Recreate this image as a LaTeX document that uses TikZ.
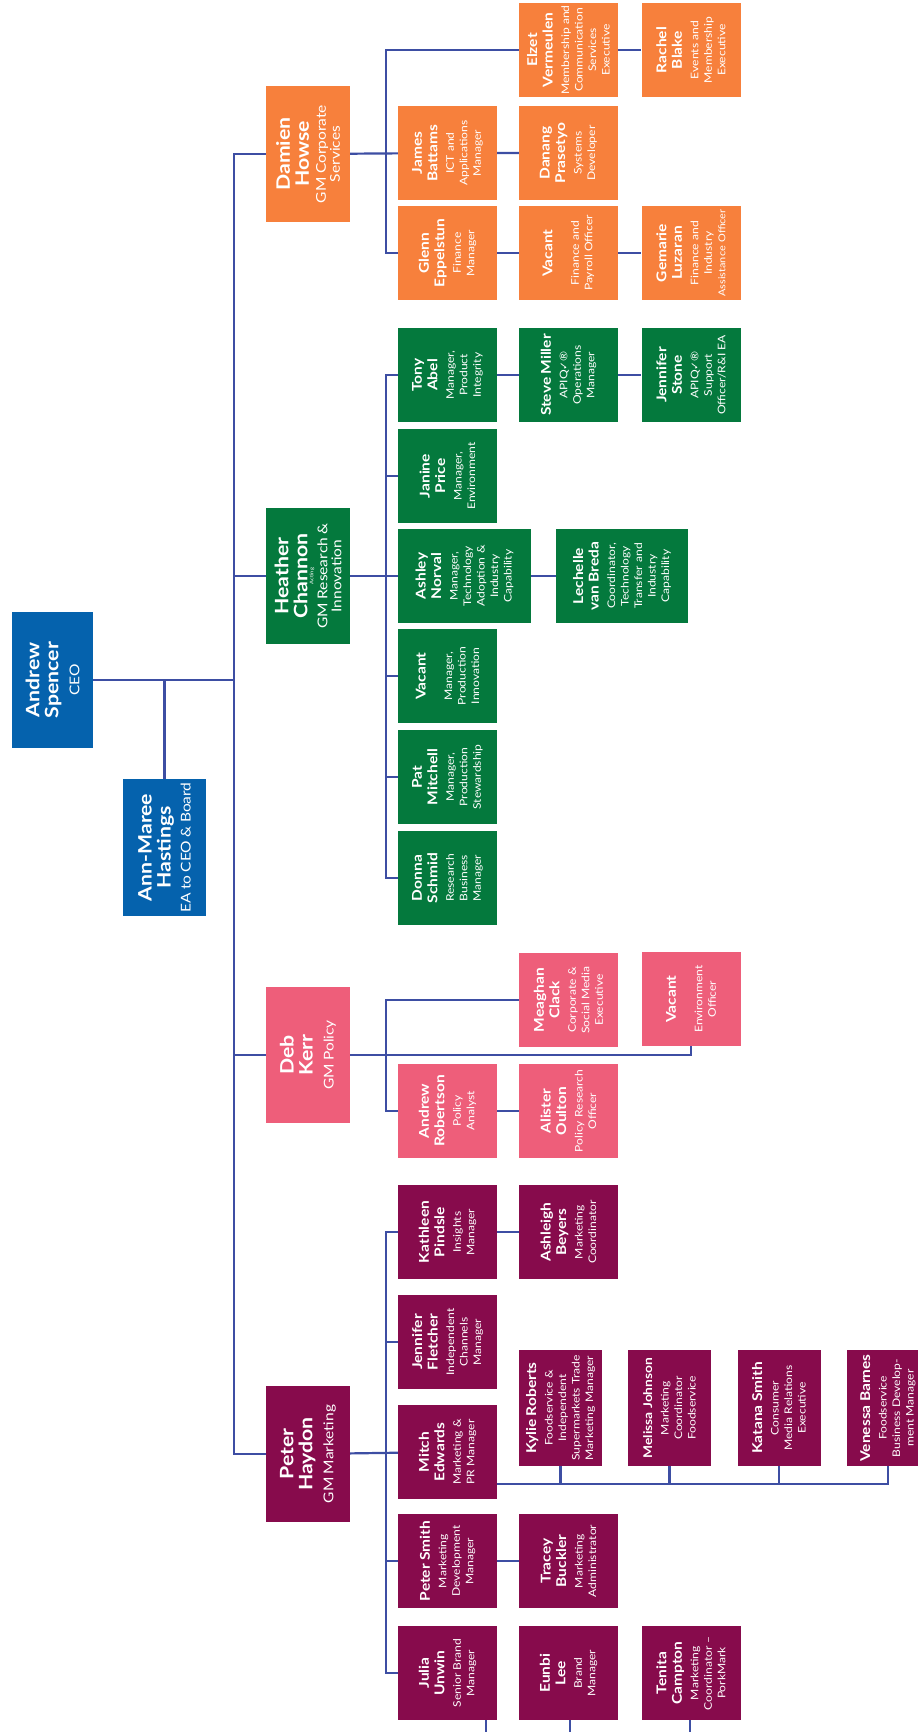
\documentclass[tikz,border=0pt]{standalone}
\usepackage{fontspec}
\setmainfont{Lato}[FakeStretch=1.15]
\setsansfont{Lato}[FakeStretch=1.15]
\newfontfamily\symfont{DejaVu Sans}
\usepackage{tikz}
\definecolor{ceoblue}{HTML}{0562AD}
\definecolor{corp}{HTML}{F7803C}
\definecolor{rnd}{HTML}{04793D}
\definecolor{policy}{HTML}{EE5E7A}
\definecolor{mktg}{HTML}{870B4C}
\definecolor{linec}{HTML}{3D4EA3}
\newcommand{\nm}[1]{{\fontsize{13.5}{15.5}\selectfont\bfseries #1\par}\vspace{3pt}}
\newcommand{\rl}[1]{{\fontsize{10.5}{13.5}\selectfont #1\par}}
\newcommand{\gnm}[1]{{\fontsize{18.5}{19}\selectfont\bfseries #1\par}\vspace{3pt}}
\newcommand{\grl}[1]{{\fontsize{13.5}{14}\selectfont #1\par}}
\newcommand{\apiq}{APIQ{\symfont ✓}®}
\tikzstyle{box} = [rotate=90, inner sep=2pt, text=white, align=center]
\tikzstyle{staffbox} = [box, minimum width=94, minimum height=99, text width=90]
\tikzstyle{widebox} = [box, minimum width=94, minimum height=133, text width=90]
\tikzstyle{tallbox} = [box, minimum width=116, minimum height=83, text width=112]
\tikzstyle{headbox} = [box, minimum width=136, minimum height=84, text width=132]
\tikzstyle{link} = [draw=linec, line width=2.2pt]

\begin{document}
\begin{tikzpicture}[x=1pt, y=-1pt]
        \useasboundingbox (0,0) rectangle (918,1732);
        \clip (0,0) rectangle (918,1732);
        \coordinate (trunk) at (234,0);
        \coordinate (ct) at (386,0);
        \coordinate (busy) at (0,1484);

        % CEO and EA
        \node[headbox, fill=ceoblue, minimum height=81] at (52.5,680) (AS) {\gnm{Andrew\\Spencer}\vspace{4pt}\grl{CEO}};
        \node[headbox, fill=ceoblue, minimum height=83, minimum width=137] at (164.5,847.5) (AH) {\gnm{Ann-Maree\\Hastings}\vspace{3pt}\grl{EA to CEO \& Board}};

        % Corporate Services
        \node[headbox, fill=corp] at (308,154) (DH) {\gnm{Damien\\Howse}\grl{GM Corporate\\Services}};
        \node[staffbox, fill=corp] at (568.5,50) (EV) {\nm{Elzet\\Vermeulen}\rl{Membership and\\Communication\\Services\\Executive}};
        \node[staffbox, fill=corp] at (691,50) (RB) {\nm{Rachel\\Blake}\rl{Events and\\Membership\\Executive}};
        \node[staffbox, fill=corp] at (447.5,153) (JB) {\nm{James\\Battams}\rl{ICT and\\Applications\\Manager}};
        \node[staffbox, fill=corp] at (568.5,153) (DP) {\nm{Danang\\Prasetyo}\rl{Systems\\Developer}};
        \node[staffbox, fill=corp] at (447.5,253) (GE) {\nm{Glenn\\Eppelstun}\rl{Finance\\Manager}};
        \node[staffbox, fill=corp] at (568.5,253) (V1) {\nm{Vacant}\vspace{10pt}\rl{Finance and\\Payroll Officer}};
        \node[staffbox, fill=corp] at (691,253) (GL) {\nm{Gemarie\\Luzaran}\rl{Finance and\\Industry\\{\fontsize{9.5}{13.5}\selectfont Assistance Officer}}};

        % Research & Innovation
        \node[headbox, fill=rnd] at (308,576) (HC) {{\fontsize{18.5}{19}\selectfont\bfseries Heather\\Channon\par}{\fontsize{5}{6}\selectfont Acting\par}\grl{GM Research \&\\Innovation}};
        \node[staffbox, fill=rnd] at (447.5,375) (TA) {\nm{Tony\\Abel}\rl{Manager,\\Product\\Integrity}};
        \node[staffbox, fill=rnd] at (568.5,375) (SM) {\nm{Steve Miller}\rl{\apiq\\Operations\\Manager}};
        \node[staffbox, fill=rnd] at (691,375) (JS) {\nm{Jennifer\\Stone}\rl{\apiq\\Support\\Officer/R\&I EA}};
        \node[staffbox, fill=rnd] at (447.5,476) (JP) {\nm{Janine\\Price}\rl{Manager,\\Environment}};
        \node[widebox, fill=rnd] at (464.5,576) (AN) {\nm{Ashley\\Norval}\rl{Manager,\\Technology\\Adoption \&\\Industry\\Capability}};
        \node[widebox, fill=rnd, minimum height=132] at (622,576) (LB) {\nm{Lechelle\\van Breda}\rl{Coordinator,\\Technology\\Transfer and\\Industry\\Capability}};
        \node[staffbox, fill=rnd] at (447.5,676) (V2) {\nm{Vacant}\vspace{10pt}\rl{Manager,\\Production\\Innovation}};
        \node[staffbox, fill=rnd] at (447.5,777) (PM) {\nm{Pat\\Mitchell}\rl{Manager,\\Production\\Stewardship}};
        \node[staffbox, fill=rnd] at (447.5,878) (DS) {\nm{Donna\\Schmid}\rl{Research\\Business\\Manager}};

        % Policy
        \node[headbox, fill=policy] at (308,1055) (DK) {\gnm{Deb\\Kerr}\vspace{4pt}\grl{GM Policy}};
        \node[staffbox, fill=policy] at (568.5,1000) (MC) {\nm{Meaghan\\Clack}\rl{Corporate \&\\Social Media\\Executive}};
        \node[staffbox, fill=policy] at (691,999) (V3) {\nm{Vacant}\vspace{10pt}\rl{Environment\\Officer}};
        \node[staffbox, fill=policy] at (447.5,1111) (AR) {\nm{Andrew\\Robertson}\rl{Policy\\Analyst}};
        \node[staffbox, fill=policy] at (568.5,1111) (AO) {\nm{Alister\\Oulton}\rl{Policy Research\\Officer}};

        % Marketing
        \node[headbox, fill=mktg] at (308,1454) (PH) {\gnm{Peter\\Haydon}\vspace{4pt}\grl{GM Marketing}};
        \node[staffbox, fill=mktg] at (447.5,1232) (KP) {\nm{Kathleen\\Pindsle}\rl{Insights\\Manager}};
        \node[staffbox, fill=mktg] at (568.5,1232) (AB) {\nm{Ashleigh\\Beyers}\rl{Marketing\\Coordinator}};
        \node[staffbox, fill=mktg] at (447.5,1342) (JF) {\nm{Jennifer\\Fletcher}\rl{Independent\\Channels\\Manager}};
        \node[staffbox, fill=mktg] at (447.5,1452) (ME) {\nm{Mitch\\Edwards}\rl{Marketing \&\\PR Manager}};
        \node[tallbox, fill=mktg] at (560.5,1408) (KR) {\nm{Kylie Roberts}\rl{Foodservice \&\\Independent\\Supermarkets Trade\\Marketing Manager}};
        \node[tallbox, fill=mktg] at (669.5,1408) (MJ) {{\fontsize{12}{15.5}\selectfont\bfseries Melissa Johnson\par}\vspace{3pt}\rl{Marketing\\Coordinator\\Foodservice}};
        \node[tallbox, fill=mktg] at (779,1408) (KS) {\nm{Katana Smith}\rl{Consumer\\Media Relations\\Executive}};
        \node[tallbox, fill=mktg] at (888,1408) (VB) {\nm{Venessa Barnes}\rl{Foodservice\\Business Develop-\\ment Manager}};
        \node[staffbox, fill=mktg] at (447.5,1561) (PS) {\nm{Peter Smith}\rl{Marketing\\Development\\Manager}};
        \node[staffbox, fill=mktg] at (568.5,1561) (TB) {\nm{Tracey\\Buckler}\rl{Marketing\\Administrator}};
        \node[staffbox, fill=mktg] at (447.5,1673) (JU) {\nm{Julia\\Unwin}\rl{Senior Brand\\Manager}};
        \node[staffbox, fill=mktg] at (568.5,1673) (EL) {\nm{Eunbi\\Lee}\rl{Brand\\Manager}};
        \node[staffbox, fill=mktg] at (691,1673) (TC) {\nm{Tenita\\Campton}\rl{Marketing\\Coordinator --\\PorkMark}};
        \coordinate (JUo) at (486,1745);
        \coordinate (ELo) at (570,1745);
        \coordinate (TCo) at (690,1745);

        % main trunk
        \draw[link] (DH) -| (trunk |- PH) -- (PH);
        \draw[link] (AS) -- (AS -| trunk);
        \draw[link] (AH) -- (AH |- AS);
        \draw[link] (HC) -- (HC -| trunk);
        \draw[link] (DK) -- (DK -| trunk);

        \draw[link] (DH) -- (JB) -- (DP);
        \draw[link] (EV) -| (ct |- GE) -- (GE) -- (V1) -- (GL);
        \draw[link] (EV) -- (RB);

        \draw[link] (HC) -- (AN) -- (LB);
        \draw[link] (TA) -| (ct |- DS) -- (DS);
        \draw[link] (TA) -- (SM) -- (JS);
        \draw[link] (JP) -- (JP -| ct);
        \draw[link] (V2) -- (V2 -| ct);
        \draw[link] (PM) -- (PM -| ct);

        \draw[link] (DK) -| (V3);
        \draw[link] (MC) -| (ct |- AR) -- (AR) -- (AO);

        \draw[link] (PH) -- (ME);
        \draw[link] (KP) -| (ct |- JU) -- (JU);
        \draw[link] (KP) -- (AB);
        \draw[link] (JF) -- (JF -| ct);
        \draw[link] (PS) -- (PS -| ct);
        \draw[link] (PS) -- (TB);
        \draw[link] (ME.south |- busy) -| (VB);
        \draw[link] (KR) -- (KR |- busy);
        \draw[link] (MJ) -- (MJ |- busy);
        \draw[link] (KS) -- (KS |- busy);
        \draw[link] (JUo |- JU.west) -- (JUo);
        \draw[link] (ELo |- EL.west) -- (ELo);
        \draw[link] (TCo |- TC.west) -- (TCo);
    \end{tikzpicture}
\end{document}
